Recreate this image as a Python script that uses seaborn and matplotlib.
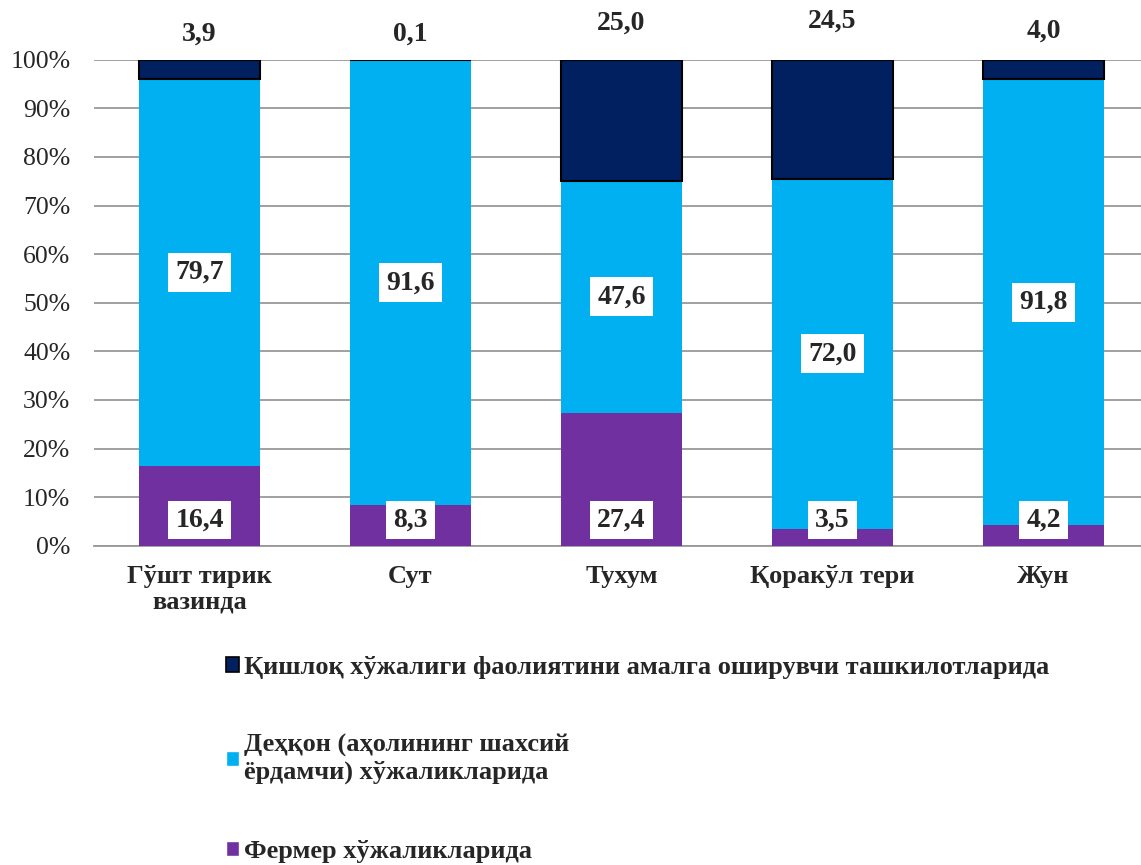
import pandas as pd
import matplotlib
matplotlib.use("Agg")
import matplotlib.pyplot as plt
import seaborn as sns
from matplotlib.patches import Patch

# chart data (percent shares)
categories = ["Гўшт тирик\nвазинда", "Сут", "Тухум", "Қоракўл тери", "Жун"]
fermer = [16.4, 8.3, 27.4, 3.5, 4.2]
dehqon = [79.7, 91.6, 47.6, 72.0, 91.8]
qishloq = [3.9, 0.1, 25.0, 24.5, 4.0]
series_names = ["Қишлоқ хўжалиги фаолиятини амалга оширувчи ташкилотларида",
                "Деҳқон (аҳолининг шахсий\nёрдамчи) хўжаликларида",
                "Фермер хўжаликларида"]
yticks = [0, 10, 20, 30, 40, 50, 60, 70, 80, 90, 100]

sns.set_style("white")
plt.rcParams['font.family'] = ['Liberation Serif', 'DejaVu Serif']

c_navy = "#002060"
c_blue = "#00B0F0"
c_purple = "#7030A0"

df = pd.DataFrame({"cat": categories, "fermer": fermer, "dehqon": dehqon, "qishloq": qishloq})
df["base2"] = df["fermer"]
df["base3"] = df["fermer"] + df["dehqon"]

fig = plt.figure(figsize=(11.41, 8.65), dpi=100)
ax = fig.add_axes([0.0824, 0.369, 0.9246, 0.562])

bw = 0.573
sns.barplot(data=df, x="cat", y="fermer", color=c_purple, width=bw, saturation=1,
            linewidth=0, ax=ax, zorder=3)
sns.barplot(data=df, x="cat", y="dehqon", bottom=df["base2"], color=c_blue, width=bw,
            saturation=1, linewidth=0, ax=ax, zorder=3)
sns.barplot(data=df, x="cat", y="qishloq", bottom=df["base3"], color=c_navy, width=bw,
            saturation=1, edgecolor="black", linewidth=1.5, ax=ax, zorder=3)

ax.set_xlim(-0.5, 4.5)
ax.set_ylim(0, 100)
ax.set_yticks(yticks)
ax.set_yticklabels([f"{t}%" for t in yticks], fontsize=18.5)
ax.yaxis.grid(True, color="#999999", linewidth=1.3, zorder=0)
ax.set_axisbelow(True)
ax.tick_params(axis="both", length=0)
ax.tick_params(axis="y", pad=17)
ax.tick_params(axis="x", pad=14)
for lbl in ax.get_xticklabels():
    lbl.set_fontsize(19)
    lbl.set_fontweight("bold")
    lbl.set_linespacing(1.1)
ax.set_xlabel("")
ax.set_ylabel("")
for s in ["left", "right", "top"]:
    ax.spines[s].set_visible(False)
ax.spines["bottom"].set_color("#999999")
ax.spines["bottom"].set_linewidth(1.3)

box = dict(boxstyle="square,pad=0.25", facecolor="white", edgecolor="none")
fmt = lambda v: f"{v:.1f}".replace(".", ",")
top_label_y = [105.2, 105.2, 107.6, 108.0, 105.8]
for i in range(len(categories)):
    ax.text(i, 5.3, fmt(fermer[i]), ha="center", va="center", fontsize=20,
            fontweight="bold", bbox=box, zorder=5)
    ax.text(i, fermer[i] + dehqon[i] / 2, fmt(dehqon[i]), ha="center", va="center",
            fontsize=20, fontweight="bold", bbox=box, zorder=5)
    ax.text(i, top_label_y[i], fmt(qishloq[i]), ha="center", va="center", fontsize=20,
            fontweight="bold", clip_on=False, zorder=5)

handles = [Patch(facecolor=c_navy, edgecolor="black", linewidth=1.2),
           Patch(facecolor=c_blue), Patch(facecolor=c_purple)]
fig.legend(handles, series_names, loc="upper left", bbox_to_anchor=(0.198, 0.242),
           frameon=False, prop={"size": 19, "weight": "bold"}, labelspacing=2.1,
           handlelength=0.5, handleheight=0.5, handletextpad=0.2, borderaxespad=0,
           borderpad=0)

fig.savefig("out.png", dpi=100)
